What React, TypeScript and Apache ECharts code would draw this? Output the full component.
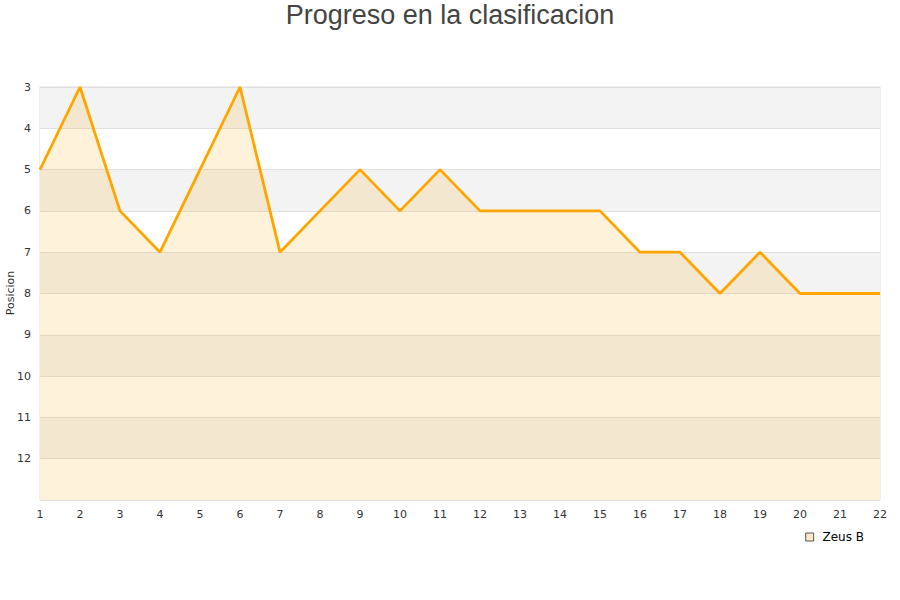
import React, { useEffect, useRef } from "react";
import * as echarts from "echarts";

const jornadas = [1, 2, 3, 4, 5, 6, 7, 8, 9, 10, 11, 12, 13, 14, 15, 16, 17, 18, 19, 20, 21, 22];
const posiciones = [5, 3, 6, 7, 5, 3, 7, 6, 5, 6, 5, 6, 6, 6, 6, 7, 7, 8, 7, 8, 8, 8];
const seriesName = "Zeus B";
const titleText = "Progreso en la clasificacion";
const yName = "Posicion";

export default function App() {
  const ref = useRef<HTMLDivElement>(null);
  useEffect(() => {
    if (!ref.current) return;
    const chart = echarts.init(ref.current, undefined, { renderer: "svg" });
    chart.setOption({
      animation: false,
      title: {
        text: titleText,
        left: "center",
        top: 0,
        padding: [1, 5, 5, 5],
        textStyle: { fontFamily: "Liberation Sans", fontSize: 27, fontWeight: "normal", color: "#444" },
      },
      grid: {
        left: 40,
        right: 20,
        top: 87,
        bottom: 100,
        containLabel: false,
        outerBoundsMode: "none",
        show: true,
        borderColor: "#ddd",
        borderWidth: 1,
      },
      legend: {
        data: [
          {
            name: seriesName,
            icon: "rect",
            itemStyle: { color: "#fde9c6", borderColor: "#555", borderWidth: 1 },
          },
        ],
        formatter: (n: string) => " " + n,
        right: 31,
        top: 526,
        itemWidth: 8,
        itemHeight: 8,
        itemGap: 5,
        textStyle: { fontFamily: "DejaVu Sans", fontSize: 12, color: "#000" },
      },
      graphic: [
        {
          type: "text",
          x: 10,
          y: 293,
          rotation: Math.PI / 2,
          style: {
            text: yName,
            fontFamily: "DejaVu Sans",
            fontSize: 11,
            fill: "#333",
            align: "center",
            verticalAlign: "middle",
          },
        },
      ],
      xAxis: {
        type: "value",
        min: 1,
        max: 22,
        interval: 1,
        axisLine: { show: false },
        axisTick: { show: false },
        splitLine: { show: false },
        axisLabel: { fontFamily: "DejaVu Sans", fontSize: 11, color: "#333", margin: 9 },
      },
      yAxis: {
        type: "value",
        inverse: true,
        min: 3,
        max: 13,
        interval: 1,
        axisLine: { show: false },
        axisTick: { show: false },
        axisLabel: { fontFamily: "DejaVu Sans", fontSize: 11, color: "#333", margin: 9, showMaxLabel: false },
        splitLine: { show: true, lineStyle: { color: "#e0e0e0", width: 1 } },
        splitArea: { show: true, areaStyle: { color: ["#f3f3f3", "#ffffff"] } },
      },
      series: [
        {
          name: seriesName,
          type: "line",
          data: jornadas.map((j, i) => [j, posiciones[i]]),
          symbol: "none",
          lineStyle: { color: "#ffa500", width: 2.8 },
          itemStyle: { color: "#fde9c6", borderColor: "#555", borderWidth: 1 },
          areaStyle: { color: "rgba(255,165,0,0.2)", origin: "end" },
        },
      ],
    });
    return () => chart.dispose();
  }, []);
  return (
    <div
      ref={ref}
      style={{ position: "absolute", left: 0, top: 0, width: 900, height: 600 }}
    />
  );
}
